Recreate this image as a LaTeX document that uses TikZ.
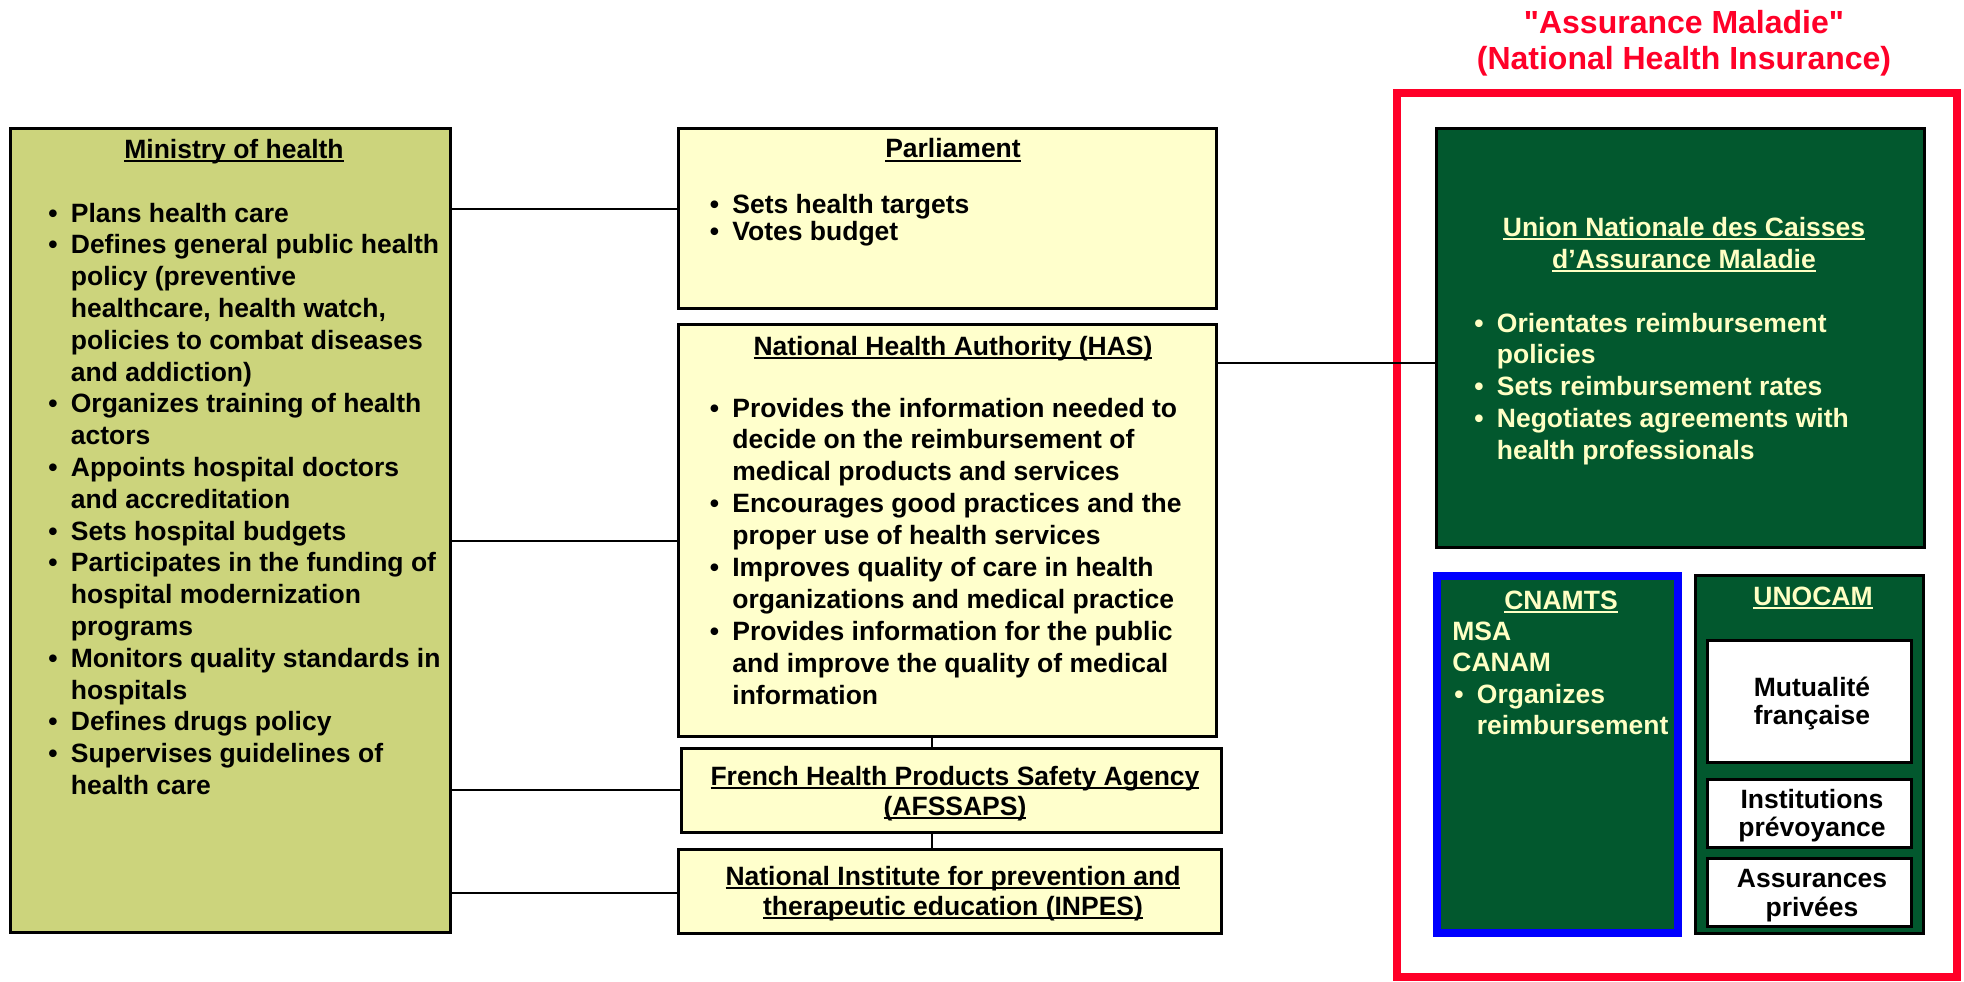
\documentclass[tikz,border=0pt]{standalone}
\usepackage{fontspec}
\setmainfont{Liberation Sans}
\usetikzlibrary{fit}

\definecolor{minfill}{RGB}{204,212,124}
\definecolor{paleyel}{RGB}{255,255,204}
\definecolor{dkgreen}{RGB}{2,88,46}
\definecolor{cream}{RGB}{255,255,196}
\definecolor{amred}{RGB}{255,0,40}
\definecolor{frameblue}{RGB}{0,0,255}

% stacked lines with a fixed pitch; the baseline is that of the first line
\newcommand\leftlines[2]{\vtop{\baselineskip=#1\relax\lineskiplimit=-\maxdimen\halign{##\hfil\cr#2\crcr}}}
\newcommand\centerlines[2]{\vtop{\baselineskip=#1\relax\lineskiplimit=-\maxdimen\halign{\hfil##\hfil\cr#2\crcr}}}
\newcommand\bu{\makebox[12.25pt][l]{\hspace*{1pt}\textbullet}}
\newcommand\ind{\hspace*{12.25pt}}
\newcommand\uln[1]{\setbox0=\hbox{#1}\rlap{\rule[-2pt]{\wd0}{1pt}}\box0}

\tikzset{
  box/.style={draw=black, line width=1.5pt, inner sep=0pt},
  conn/.style={draw=black, line width=1pt},
  txt/.style={inner sep=0pt, font=\bfseries\fontsize{13.25}{16}\selectfont},
}

\begin{document}
\begin{tikzpicture}[x=0.5pt, y=-0.5pt]
\useasboundingbox (0,0) rectangle (1964,981);

% ---------- connector heights ----------
\coordinate (yParl) at (0,209);
\coordinate (yHas) at (0,541);
\coordinate (yAfs) at (0,790);
\coordinate (yInp) at (0,893);
\coordinate (yUnion) at (0,363);
\coordinate (xV) at (932,0);

% ---------- left column: ministry ----------
\node[box, fill=minfill, fit={(10,128)(450,932)}] (min) {};
\node[txt, anchor=base] (minTitle) at (234,158) {\uln{Ministry of health}};
\node[txt, anchor=base west] (minList) at (46,222) {\leftlines{15.9pt}{%
\bu Plans health care\cr
\bu Defines general public health\cr
\ind policy (preventive\cr
\ind healthcare, health watch,\cr
\ind policies to combat diseases\cr
\ind and addiction)\cr
\bu Organizes training of health\cr
\ind actors\cr
\bu Appoints hospital doctors\cr
\ind and accreditation\cr
\bu Sets hospital budgets\cr
\bu Participates in the funding of\cr
\ind hospital modernization\cr
\ind programs\cr
\bu Monitors quality standards in\cr
\ind hospitals\cr
\bu Defines drugs policy\cr
\bu Supervises guidelines of\cr
\ind health care}};

% ---------- middle column ----------
\node[box, fill=paleyel, fit={(678,128)(1216,308)}] (parl) {};
\node[txt, anchor=base] (parlTitle) at (953,157.5) {\uln{Parliament}};
\node[txt, anchor=base west] (parlList) at (707.5,213) {\leftlines{13.75pt}{%
\bu Sets health targets\cr
\bu Votes budget}};

\node[box, fill=paleyel, fit={(678,324)(1216,736)}] (has) {};
\node[txt, anchor=base] (hasTitle) at (953,355) {\uln{National Health Authority (HAS)}};
\node[txt, anchor=base west] (hasList) at (707.5,417) {\leftlines{15.95pt}{%
\bu Provides the information needed to\cr
\ind decide on the reimbursement of\cr
\ind medical products and services\cr
\bu Encourages good practices and the\cr
\ind proper use of health services\cr
\bu Improves quality of care in health\cr
\ind organizations and medical practice\cr
\bu Provides information for the public\cr
\ind and improve the quality of medical\cr
\ind information}};

\node[box, fill=paleyel, fit={(681,748)(1221,832)}] (afs) {};
\node[txt, anchor=base] (afsText) at (955,785) {\centerlines{15pt}{%
\uln{French Health Products Safety Agency}\cr
\uln{(AFSSAPS)}}};

\node[box, fill=paleyel, fit={(678,849)(1221,933)}] (inp) {};
\node[txt, anchor=base] (inpText) at (953,885) {\centerlines{15pt}{%
\uln{National Institute for prevention and}\cr
\uln{therapeutic education (INPES)}}};

% ---------- right column: national health insurance ----------
\node[txt, font=\bfseries\fontsize{16}{18}\selectfont, text=amred, anchor=base] (amTitle) at (1684,33) {\centerlines{18.35pt}{%
\textquotedbl Assurance Maladie\textquotedbl\cr
(National Health Insurance)}};
\node[draw=amred, line width=4pt, inner sep=0pt, fit={(1397,93)(1957,977)}] (amFrame) {};

\node[box, fill=dkgreen, fit={(1436,128)(1924,547)}] (uncam) {};
\node[txt, text=cream, anchor=base] (uncamTitle) at (1684,236) {\centerlines{16pt}{%
\uln{Union Nationale des Caisses}\cr
\uln{d’Assurance Maladie}}};
\node[txt, text=cream, anchor=base west] (uncamList) at (1472,332) {\leftlines{15.9pt}{%
\bu Orientates reimbursement\cr
\ind policies\cr
\bu Sets reimbursement rates\cr
\bu Negotiates agreements with\cr
\ind health professionals}};

\node[draw=frameblue, line width=4pt, fill=dkgreen, inner sep=0pt, fit={(1437,575.5)(1678,933)}] (cnam) {};
\node[txt, text=cream, anchor=base] (cnamTitle) at (1561,609) {\uln{CNAMTS}};
\node[txt, text=cream, anchor=base west] (cnamList) at (1452,640) {\leftlines{15.8pt}{%
MSA\cr
CANAM\cr
\bu Organizes\cr
\ind reimbursement}};

\node[box, fill=dkgreen, fit={(1695.5,575)(1923,933)}] (unoc) {};
\node[txt, text=cream, anchor=base] (unocTitle) at (1813,605) {\uln{UNOCAM}};

\node[box, fill=white, fit={(1707,640)(1911,762)}] (mutu) {};
\node[txt, anchor=base] (mutuText) at (1812,696) {\centerlines{14pt}{Mutualité\cr française}};
\node[box, fill=white, fit={(1707,779)(1911,847)}] (inst) {};
\node[txt, anchor=base] (instText) at (1812,808) {\centerlines{14pt}{Institutions\cr prévoyance}};
\node[box, fill=white, fit={(1707,858)(1911,926)}] (assu) {};
\node[txt, anchor=base] (assuText) at (1812,887) {\centerlines{14.5pt}{Assurances\cr privées}};

% ---------- connectors ----------
\draw[conn] (min.east |- yParl) -- (parl.west |- yParl);
\draw[conn] (min.east |- yHas) -- (has.west |- yHas);
\draw[conn] (min.east |- yAfs) -- (afs.west |- yAfs);
\draw[conn] (min.east |- yInp) -- (inp.west |- yInp);
\draw[conn] (has.south -| xV) -- (afs.north -| xV);
\draw[conn] (afs.south -| xV) -- (inp.north -| xV);
\draw[conn] (has.east |- yUnion) -- (uncam.west |- yUnion);
\end{tikzpicture}
\end{document}
